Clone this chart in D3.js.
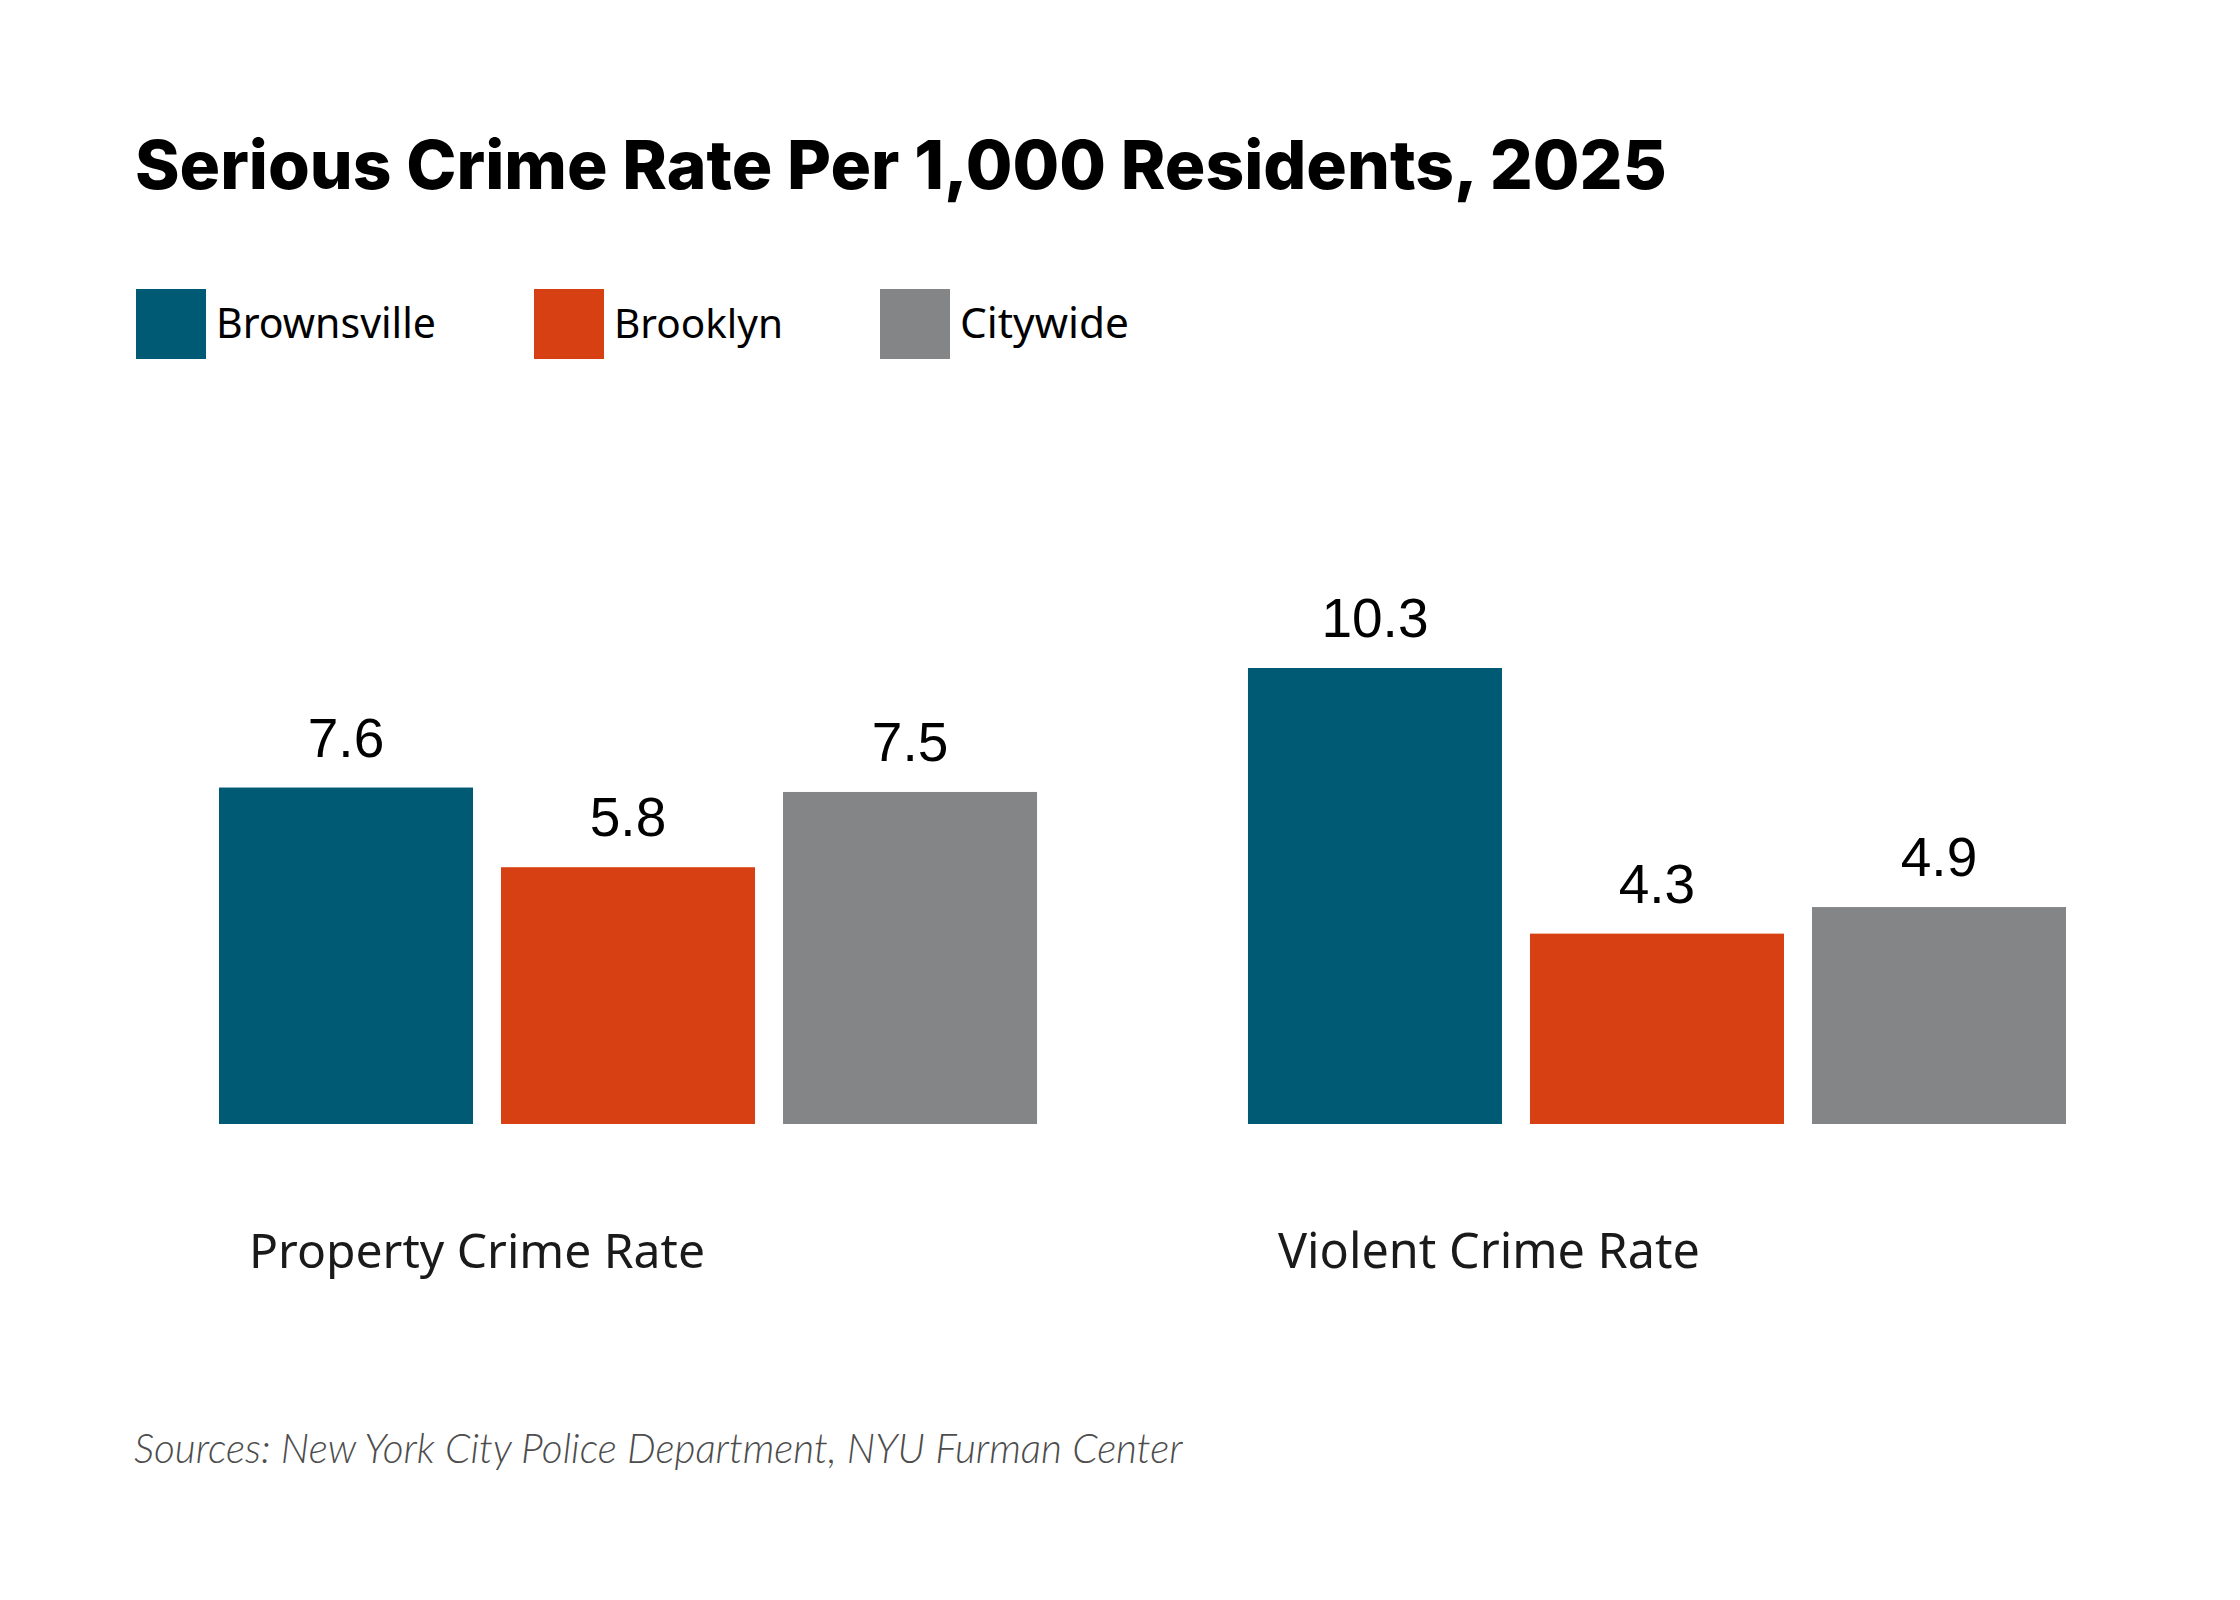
<!DOCTYPE html>
<html>
<head>
<meta charset="utf-8">
<script src="https://cdn.jsdelivr.net/npm/d3@7"></script>
<style>
  body { margin: 0; background: #fff; }
  svg { display: block; }
</style>
</head>
<body>
<div id="chart"></div>
<script>
// data
var categories = ["Property Crime Rate", "Violent Crime Rate"];
var series = ["Brownsville", "Brooklyn", "Citywide"];
var brownsville = [7.6, 10.3];
var brooklyn = [5.8, 4.3];
var citywide = [7.5, 4.9];
var colors = ["#015a74", "#d64012", "#848587"];

var W = 2240, H = 1600;

var svg = d3.select("#chart").append("svg")
    .attr("width", W)
    .attr("height", H);

// fit a text element to a width by changing its font size
function fit(sel, width) {
    var len = sel.node().getComputedTextLength();
    var fs = parseFloat(sel.attr("font-size"));
    sel.attr("font-size", (fs * width / len).toFixed(2));
}

// title
svg.append("text")
    .attr("x", 135)
    .attr("y", 189)
    .attr("font-family", "Inter, 'Noto Sans', sans-serif")
    .attr("font-weight", 800)
    .attr("font-size", 66)
    .attr("fill", "#000")
    .text("Serious Crime Rate Per 1,000 Residents, 2025")
    .call(fit, 1532);

// legend
var legendX = [136, 534, 880];
var legendW = [220, 169, 169];
var legend = svg.selectAll("g.legend")
    .data(series)
    .enter()
    .append("g")
    .attr("class", "legend")
    .attr("transform", function (d, i) { return "translate(" + legendX[i] + ",289)"; });

legend.append("rect")
    .attr("width", 70)
    .attr("height", 70)
    .attr("fill", function (d, i) { return colors[i]; });

legend.append("text")
    .attr("x", 80)
    .attr("y", 49)
    .attr("font-family", "'Noto Sans', sans-serif")
    .attr("font-size", 44)
    .attr("fill", "#000")
    .text(function (d) { return d; })
    .each(function (d, i) { fit(d3.select(this), legendW[i]); });

// scales
var x0 = d3.scaleBand()
    .domain(categories)
    .range([219, 2066])
    .paddingInner(0.205)
    .paddingOuter(0);

var x1 = d3.scaleBand()
    .domain(series)
    .range([0, x0.bandwidth()])
    .paddingInner(0.0993)
    .paddingOuter(0);

var y = d3.scaleLinear()
    .domain([0, 10.3])
    .range([1124, 668]);

var values = [brownsville, brooklyn, citywide];
var rows = [];
categories.forEach(function (c, ci) {
    series.forEach(function (s, si) {
        rows.push({ cat: c, ser: s, si: si, v: values[si][ci] });
    });
});

var bar = svg.selectAll("g.bar")
    .data(rows)
    .enter()
    .append("g")
    .attr("class", "bar")
    .attr("transform", function (d) { return "translate(" + (x0(d.cat) + x1(d.ser)) + ",0)"; });

bar.append("rect")
    .attr("y", function (d) { return y(d.v); })
    .attr("width", x1.bandwidth())
    .attr("height", function (d) { return y(0) - y(d.v); })
    .attr("fill", function (d) { return colors[d.si]; });

bar.append("text")
    .attr("x", x1.bandwidth() / 2)
    .attr("y", function (d) { return y(d.v) - 31; })
    .attr("text-anchor", "middle")
    .attr("font-family", "'Liberation Sans', Arial, sans-serif")
    .attr("font-size", 55)
    .attr("fill", "#000")
    .text(function (d) { return d.v.toFixed(1); });

// category labels
var catW = [456, 422];
svg.selectAll("text.cat")
    .data(categories)
    .enter()
    .append("text")
    .attr("class", "cat")
    .attr("x", function (d) { return x0(d) + 30; })
    .attr("y", 1268)
    .attr("font-family", "'Noto Sans', sans-serif")
    .attr("font-size", 50)
    .attr("fill", "#1a1a1a")
    .text(function (d) { return d; })
    .each(function (d, i) { fit(d3.select(this), catW[i]); });

// source
svg.append("text")
    .attr("x", 134)
    .attr("y", 1463)
    .attr("font-family", "Lato, 'Noto Sans', sans-serif")
    .attr("font-style", "italic")
    .attr("font-weight", 300)
    .attr("font-size", 35)
    .attr("fill", "#4d4d4d")
    .text("Sources: New York City Police Department, NYU Furman Center")
    .call(fit, 1049);
</script>
</body>
</html>
